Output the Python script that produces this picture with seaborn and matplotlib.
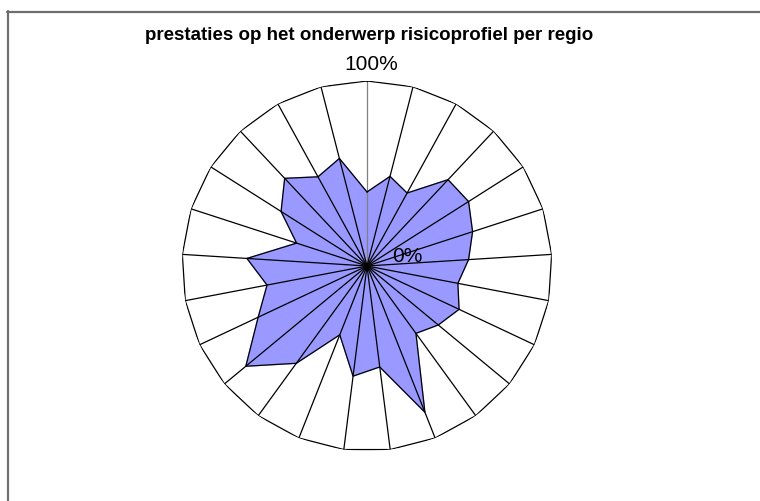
import numpy as np
import pandas as pd
import matplotlib
matplotlib.use('Agg')
import matplotlib.pyplot as plt
import seaborn as sns
from matplotlib.lines import Line2D

# values per region (fraction of 100%), clockwise from the top
regions = [f'regio {i + 1}' for i in range(25)]
scores = [0.40, 0.50, 0.45, 0.64, 0.65, 0.60, 0.55, 0.50, 0.55, 0.50,
          0.45, 0.85, 0.55, 0.60, 0.40, 0.65, 0.85, 0.65, 0.55, 0.65,
          0.40, 0.55, 0.65, 0.55, 0.60]
title = 'prestaties op het onderwerp risicoprofiel per regio'
axis_labels = ['0%', '100%']

sns.set_theme(style='white')
plt.rcParams['font.family'] = ['Liberation Sans', 'DejaVu Sans']

n = len(regions)
angles = np.arange(n) * 2 * np.pi / n
df = pd.DataFrame({'regio': regions, 'theta': angles, 'score': scores})
closed = pd.concat([df, df.iloc[:1]], ignore_index=True)

fig = plt.figure(figsize=(7.6, 5.02), dpi=100)
fig.patch.set_facecolor('white')

# centre (367, 267) px, radius 185 px
cx, cy, rad = 367, 267, 185
ax = fig.add_axes([(cx - rad) / 760, (502 - cy - rad) / 502, 2 * rad / 760, 2 * rad / 502],
                  projection='polar')
ax.set_theta_zero_location('N')
ax.set_theta_direction(-1)
ax.set_ylim(0, 1)
ax.set_axis_off()

# data area
ax.fill(closed['theta'], closed['score'], color='#9999FF', zorder=1)
sns.lineplot(data=closed, x='theta', y='score', sort=False, estimator=None,
             color='black', linewidth=0.9, ax=ax, zorder=3)

# spokes and outer polygon
for i, t in enumerate(angles):
    ax.plot([t, t], [0, 1], color='#808080' if i == 0 else 'black',
            linewidth=0.9, zorder=2)
ax.plot(np.append(angles, angles[0]), np.ones(n + 1), color='black',
        linewidth=0.9, zorder=2)
ax.set_xlabel('')
ax.set_ylabel('')

# axis labels
fig.text(407 / 760, 1 - 256 / 502, axis_labels[0], fontsize=15,
         ha='center', va='center', color='black')
fig.text(371 / 760, 1 - 64.5 / 502, axis_labels[1], fontsize=15,
         ha='center', va='center', color='black')
fig.text(369 / 760, 1 - 36 / 502, title, fontsize=13.5, fontweight='bold',
         ha='center', va='center', color='black')

# chart frame
fig.add_artist(Line2D([7.5 / 760, 7.5 / 760], [0, 1 - 12 / 502],
                      color='#6e6e6e', linewidth=1.6, transform=fig.transFigure))
fig.add_artist(Line2D([7 / 760, 1], [1 - 12.5 / 502, 1 - 12.5 / 502],
                      color='#6e6e6e', linewidth=1.6, transform=fig.transFigure))

fig.savefig('out.png', dpi=100, facecolor='white')
